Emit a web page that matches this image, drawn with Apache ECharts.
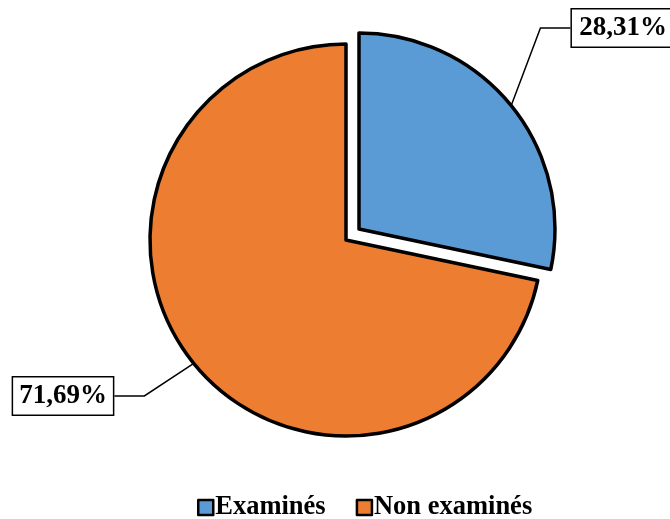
<!DOCTYPE html>
<html>
<head>
<meta charset="utf-8">
<script src="https://cdn.jsdelivr.net/npm/echarts@6/dist/echarts.min.js"></script>
<style>
  html, body { margin: 0; padding: 0; background: #fff; }
  #chart { width: 670px; height: 519px; }
</style>
</head>
<body>
<div id="chart"></div>
<script>
  // parts des patients
  const categories = ['Examinés', 'Non examinés'];
  const values = [28.31, 71.69];
  const colors = ['#5B9BD5', '#ED7D31'];
  const labelSpots = [[623, 28], [63, 396]];

  const chart = echarts.init(document.getElementById('chart'));

  const fmt = (v) => v.toFixed(2).replace('.', ',') + '%';

  // une série par part : la part bleue est décalée (éclatée)
  const centers = [[359, 229], [346, 240]];

  const makeSeries = (idx) => ({
    type: 'pie',
    center: centers[idx],
    radius: 196,
    startAngle: 90,
    clockwise: true,
    silent: true,
    itemStyle: {
      borderColor: '#000',
      borderWidth: 3.5,
    },
    label: {
      show: true,
      position: 'outside',
      formatter: (p) => fmt(p.value),
      fontFamily: 'Liberation Serif',
      fontWeight: 'bold',
      fontSize: 27,
      color: '#000',
      backgroundColor: '#fff',
      borderColor: '#000',
      borderWidth: 1.5,
      padding: [6, 6, 4, 6],
    },
    labelLine: {
      show: true,
      lineStyle: { color: '#000', width: 1.5 },
    },
    labelLayout: (params) => params.dataIndex === idx ? {
      x: labelSpots[idx][0],
      y: labelSpots[idx][1],
      align: 'center',
      verticalAlign: 'middle',
    } : {},
    emphasis: { disabled: true },
    data: categories.map((name, i) => i === idx ? {
      name,
      value: values[i],
      itemStyle: { color: colors[i] },
    } : {
      name: '_' + name,
      value: values[i],
      itemStyle: { color: 'rgba(0,0,0,0)', borderWidth: 0 },
      label: { show: false },
      labelLine: { show: false },
    }),
  });

  const option = {
    animation: false,
    legend: {
      bottom: -7,
      left: 192,
      itemWidth: 15,
      itemHeight: 15,
      itemGap: 30,
      icon: 'rect',
      itemStyle: { borderColor: '#000', borderWidth: 2.5 },
      textStyle: {
        fontFamily: 'Liberation Serif',
        fontWeight: 'bold',
        fontSize: 26.5,
        color: '#000',
        padding: [0, 0, 0, -3],
      },
      data: categories,
    },
    series: [makeSeries(1), makeSeries(0)],
  };
  chart.setOption(option);
</script>
</body>
</html>
